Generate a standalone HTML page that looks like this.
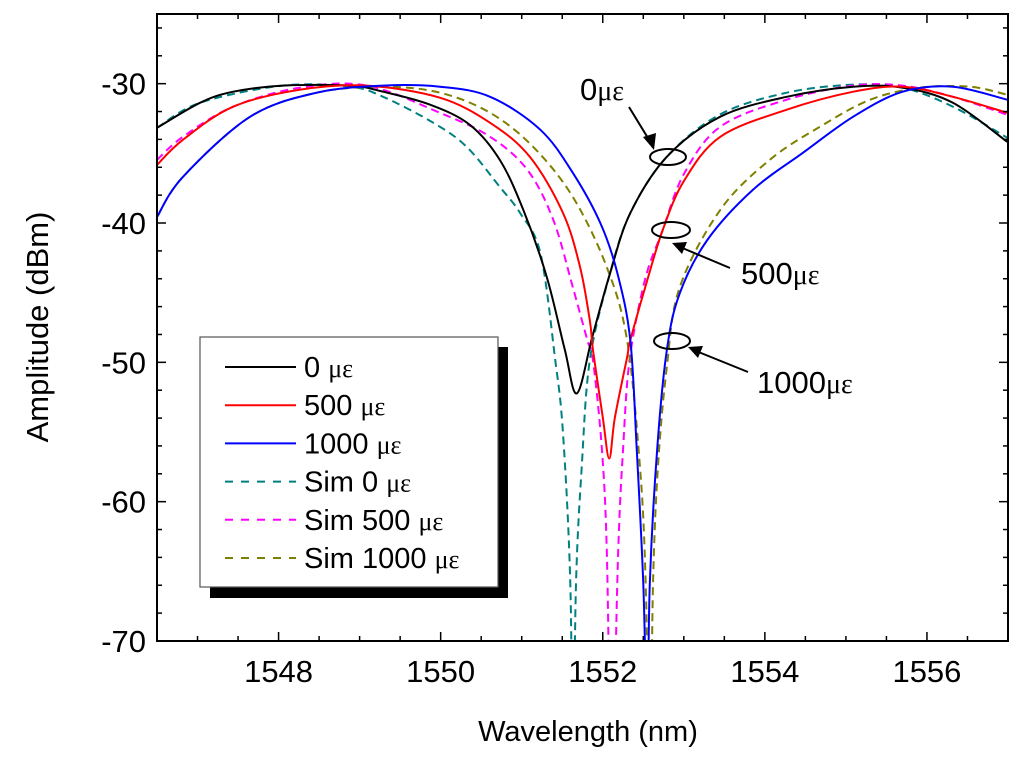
<!DOCTYPE html>
<html><head><meta charset="utf-8"><style>
body{margin:0;background:#fff;}
svg{display:block;font-family:"Liberation Sans",sans-serif;}
</style></head><body>
<svg id="chart" width="1024" height="762" viewBox="0 0 1024 762">
<defs><clipPath id="plotclip"><rect x="157" y="14" width="851" height="627"/></clipPath></defs>
<rect x="0" y="0" width="1024" height="762" fill="#fff"/>
<g id="curves" clip-path="url(#plotclip)"></g>
<g id="axes"></g>
<text x="48" y="327" font-size="31" text-anchor="middle" transform="rotate(-90 48 327)">Amplitude (dBm)</text>
<text x="588" y="741" font-size="29" text-anchor="middle">Wavelength (nm)</text>
<g id="legend">
<rect x="210" y="347" width="298" height="251" fill="#000"/>
<rect x="200" y="337" width="298" height="250" fill="#fff" stroke="#555" stroke-width="1.2"/>
</g>
<g id="annotations">
<text x="580" y="100" font-size="31">0<tspan font-family="Liberation Serif,serif" font-size="28">με</tspan></text>
<ellipse cx="668" cy="157" rx="18" ry="8" fill="none" stroke="#000" stroke-width="2"/>
<line x1="629" y1="107" x2="651" y2="143" stroke="#000" stroke-width="2"/>
<polygon points="654,150 643,137 656,133" fill="#000"/>
<text x="741" y="284" font-size="31">500<tspan font-family="Liberation Serif,serif" font-size="28">με</tspan></text>
<ellipse cx="671" cy="230" rx="19" ry="8" fill="none" stroke="#000" stroke-width="2"/>
<line x1="730" y1="268" x2="680" y2="247" stroke="#000" stroke-width="2"/>
<polygon points="672,243 687,242 682,254" fill="#000"/>
<text x="757" y="393" font-size="31">1000<tspan font-family="Liberation Serif,serif" font-size="28">με</tspan></text>
<ellipse cx="672" cy="341" rx="18" ry="8" fill="none" stroke="#000" stroke-width="2"/>
<line x1="748" y1="372" x2="696" y2="351" stroke="#000" stroke-width="2"/>
<polygon points="688,347 703,346 698,358" fill="#000"/>
</g>
</svg>
<script>
var xTicks = [1548, 1550, 1552, 1554, 1556];
var yTicks = [-30, -40, -50, -60, -70];
var seriesNames = ["0 με", "500 με", "1000 με", "Sim 0 με", "Sim 500 με", "Sim 1000 με"];
var wl0 = [1546.50,1547.03,1547.44,1548.05,1548.88,1549.29,1549.87,1550.36,1550.73,1551.02,1551.31,1551.53,1551.68,1551.87,1552.09,1552.34,1552.79,1553.45,1554.27,1555.09,1555.70,1556.32,1556.99];
var amp0 = [-33.17,-31.37,-30.58,-30.14,-30.14,-30.58,-31.51,-32.95,-35.47,-39.06,-43.88,-49.06,-52.23,-48.20,-43.6,-39.28,-35.25,-32.37,-30.94,-30.22,-30.29,-31.37,-34.17];
var wl500 = [1546.50,1546.82,1547.44,1548.26,1549.09,1549.99,1550.61,1551.10,1551.51,1551.72,1551.84,1551.88,1552.00,1552.08,1552.15,1552.30,1552.34,1552.55,1552.74,1553.00,1553.45,1554.27,1555.09,1555.70,1556.32,1556.99];
var amp500 = [-35.83,-34.03,-31.65,-30.43,-30.14,-31.01,-32.81,-35.25,-39.28,-43.17,-46.98,-49.14,-53.96,-56.91,-53.96,-49.64,-48.42,-44.1,-40.5,-37.0,-33.81,-31.87,-30.58,-30.22,-30.94,-32.09];
var wl1000 = [1546.50,1546.82,1547.65,1548.47,1549.29,1549.99,1550.61,1551.23,1551.63,1551.97,1552.18,1552.34,1552.42,1552.50,1552.55,1552.58,1552.67,1552.79,1552.95,1553.29,1553.85,1554.47,1555.09,1555.70,1556.32,1556.99];
var amp1000 = [-39.57,-36.69,-32.37,-30.65,-30.14,-30.22,-30.94,-33.31,-36.4,-40.0,-43.6,-48.42,-56.33,-65.9,-76,-65.9,-56.33,-49.14,-45.04,-41.22,-37.63,-34.96,-32.37,-30.58,-30.22,-31.15];
var wlSim0 = [1546.50,1547.03,1548.05,1548.88,1549.29,1549.91,1550.32,1550.73,1550.98,1551.23,1551.41,1551.51,1551.60,1551.63,1551.67,1551.74,1551.84,1552.09,1552.34,1552.79,1553.45,1554.27,1555.09,1555.70,1556.32,1556.99];
var ampSim0 = [-33.17,-31.37,-30.14,-30.22,-30.94,-32.81,-34.53,-37.41,-39.28,-42.16,-49.64,-55.11,-65.9,-80,-65.9,-57.55,-49.86,-43.6,-39.28,-35.25,-32.2,-30.65,-30.07,-30.29,-31.65,-33.88];
var wlSim500 = [1546.50,1546.82,1547.44,1548.26,1549.09,1549.99,1550.61,1551.07,1551.39,1551.63,1551.81,1551.88,1551.99,1552.05,1552.11,1552.19,1552.25,1552.33,1552.52,1552.74,1553.00,1553.45,1554.27,1555.09,1555.70,1556.32,1556.99];
var ampSim500 = [-35.47,-33.81,-31.65,-30.29,-30.14,-32.09,-33.81,-36.19,-39.78,-44.6,-48.42,-49.86,-56.33,-63.53,-80,-63.53,-56.33,-49.86,-44.1,-40.5,-36.5,-33.09,-31.15,-30.14,-30.14,-30.94,-32.23];
var wlSim1000 = [1546.50,1546.82,1547.65,1548.47,1549.29,1549.99,1550.61,1551.14,1551.63,1552.05,1552.30,1552.46,1552.53,1552.58,1552.62,1552.68,1552.79,1552.95,1553.45,1554.06,1554.68,1555.30,1555.91,1556.53,1556.99];
var ampSim1000 = [-39.57,-36.69,-32.37,-30.65,-30.22,-30.65,-32.09,-34.53,-38.13,-43.17,-48.42,-57.55,-65.9,-80,-65.9,-57.55,-50.36,-44.6,-39.06,-35.47,-33.09,-31.15,-30.29,-30.22,-30.79];

var NS = "http://www.w3.org/2000/svg";
var X0 = 157, X1 = 1008, Y0 = 14, Y1 = 641;
var XMIN = 1546.5, XMAX = 1557, YMIN = -70, YMAX = -25;
function xs(v){ return X0 + (v - XMIN) / (XMAX - XMIN) * (X1 - X0); }
function ys(v){ return Y1 - (v - YMIN) / (YMAX - YMIN) * (Y1 - Y0); }
function mk(tag, attrs, parent){ var e = document.createElementNS(NS, tag); for (var k in attrs) e.setAttribute(k, attrs[k]); parent.appendChild(e); return e; }
function pathFrom(wl, amp){
  var p = wl.map(function(w, i){ return [xs(w), ys(amp[i])]; });
  var d = "M" + p[0][0].toFixed(1) + "," + p[0][1].toFixed(1);
  for (var i = 0; i < p.length - 1; i++){
    var a = p[Math.max(0, i-1)], b = p[i], c = p[i+1], e = p[Math.min(p.length-1, i+2)];
    var c1x = b[0] + (c[0]-a[0])/6, c1y = b[1] + (c[1]-a[1])/6;
    var c2x = c[0] - (e[0]-b[0])/6, c2y = c[1] - (e[1]-b[1])/6;
    d += " C" + c1x.toFixed(1)+","+c1y.toFixed(1)+" "+c2x.toFixed(1)+","+c2y.toFixed(1)+" "+c[0].toFixed(1)+","+c[1].toFixed(1);
  }
  return d;
}
var curves = document.getElementById("curves");
var defs = [
  [wlSim0, ampSim0, "#008080", "8,5", "curve-sim-0"],
  [wlSim500, ampSim500, "#ff00ff", "8,5", "curve-sim-500"],
  [wlSim1000, ampSim1000, "#808000", "8,5", "curve-sim-1000"],
  [wl0, amp0, "#000000", "", "curve-0"],
  [wl500, amp500, "#ff0000", "", "curve-500"],
  [wl1000, amp1000, "#0000ff", "", "curve-1000"]
];
defs.forEach(function(s){
  var el = mk("path", {d: pathFrom(s[0], s[1]), fill: "none", stroke: s[2], "stroke-width": 2}, curves);
  if (s[3]) el.setAttribute("stroke-dasharray", s[3]);
  
  
});
var ax = document.getElementById("axes");
var frame = mk("rect", {x: X0, y: Y0, width: X1-X0, height: Y1-Y0, fill: "none", stroke: "#000", "stroke-width": 2}, ax);


for (var v = 1546.5; v <= 1557.001; v += 0.5){
  var x = xs(v); var major = Math.abs(v/2 - Math.round(v/2)) < 1e-6;
  var L = major ? 9 : 5;
  var t1 = mk("line", {x1: x, y1: Y1, x2: x, y2: Y1-L, stroke: "#000", "stroke-width": 1.5}, ax);
  
  
  var t2 = mk("line", {x1: x, y1: Y0, x2: x, y2: Y0+L, stroke: "#000", "stroke-width": 1.5}, ax);
  
  
}
for (var v = -70; v <= -26; v += 2){
  var y = ys(v); var major = v % 10 === 0;
  var L = major ? 9 : 5;
  var t3 = mk("line", {x1: X0, y1: y, x2: X0+L, y2: y, stroke: "#000", "stroke-width": 1.5}, ax);
  
  
  var t4 = mk("line", {x1: X1, y1: y, x2: X1-L, y2: y, stroke: "#000", "stroke-width": 1.5}, ax);
  
  
}
xTicks.forEach(function(v){
  var t = mk("text", {x: xs(v), y: 682, "font-size": 31, "text-anchor": "middle"}, ax);
  t.textContent = String(v);
  
  
});
yTicks.forEach(function(v){
  var t = mk("text", {x: 146, y: ys(v) + 11, "font-size": 31, "text-anchor": "end"}, ax);
  t.textContent = String(v);
  
  
});
var lg = document.getElementById("legend");
var lcol = ["#000000", "#ff0000", "#0000ff", "#008080", "#ff00ff", "#808000"];
var ldash = ["", "", "", "8,8", "8,8", "8,8"];
var lpre = ["0", "500", "1000", "Sim 0", "Sim 500", "Sim 1000"];
seriesNames.forEach(function(n, i){
  var y = 367 + i * 38.2;
  var ln = mk("line", {x1: 225, y1: y, x2: 296, y2: y, stroke: lcol[i], "stroke-width": 2}, lg);
  if (ldash[i]) ln.setAttribute("stroke-dasharray", ldash[i]);
  
  
  var t = mk("text", {x: 304, y: y + 10, "font-size": 29}, lg);
  t.textContent = lpre[i] + " ";
  var ts = mk("tspan", {"font-family": "Liberation Serif,serif", "font-size": 26}, t);
  ts.textContent = "με";
  
  
});
</script>
</body></html>
